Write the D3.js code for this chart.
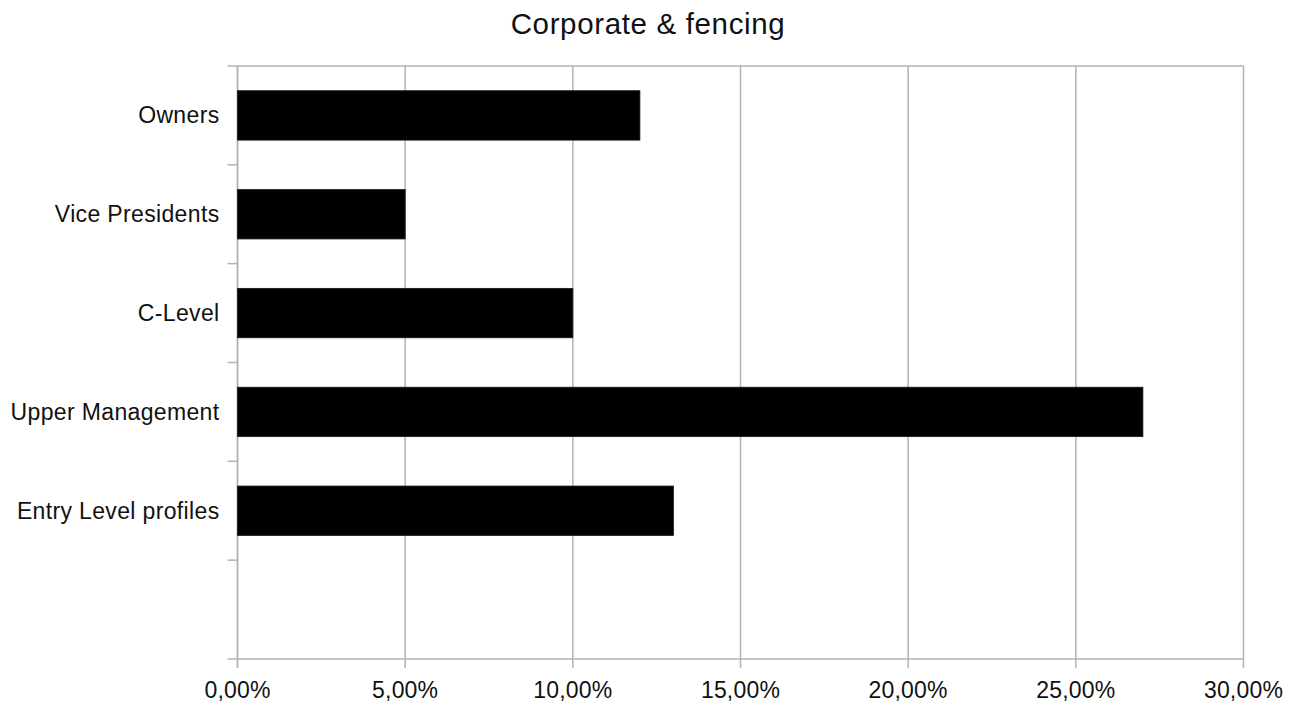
<!DOCTYPE html>
<html>
<head>
<meta charset="utf-8">
<script src="https://cdn.jsdelivr.net/npm/d3@7"></script>
<style>
  html, body { margin: 0; padding: 0; background: #fff; }
  svg { display: block; }
  text { font-family: "Liberation Sans", Arial, sans-serif; fill: #111; }
</style>
</head>
<body>
<svg id="chart" width="1295" height="704"></svg>
<script>
// Chart data
const title = "Corporate & fencing";
const categories = ["Owners", "Vice Presidents", "C-Level", "Upper Management", "Entry Level profiles"];
const shares = [0.12, 0.05, 0.10, 0.27, 0.13];
const xTicks = [0, 0.05, 0.10, 0.15, 0.20, 0.25, 0.30];

// Category slots: the axis reserves one more (empty) slot below the last category
const slots = categories.concat([""]);

const W = 1295, H = 704;
const plot = { left: 237.5, right: 1243.5, top: 66, bottom: 659 };
const gridColor = "#b3b3b3";

const svg = d3.select("#chart");

// Comma-decimal percentage formatting
const locale = d3.formatLocale({ decimal: ",", thousands: ".", grouping: [3], currency: ["", "€"] });
const fmtPct = locale.format(".2%");

const x = d3.scaleLinear().domain([0, 0.30]).range([plot.left, plot.right]);
const yBand = d3.scaleBand().domain(slots).range([plot.top, plot.bottom])
  .paddingInner(0.5).paddingOuter(0.25);
const step = yBand.step();

// Vertical gridlines at each x tick
svg.append("g").selectAll("line").data(xTicks).join("line")
  .attr("x1", d => x(d)).attr("x2", d => x(d))
  .attr("y1", plot.top).attr("y2", plot.bottom + 9)
  .attr("stroke", gridColor).attr("stroke-width", 1.5);

// Category boundary ticks on the y axis (top one runs across as the plot's upper edge)
const bounds = d3.range(slots.length + 1).map(i => plot.top + i * step);
svg.append("g").selectAll("line").data(bounds).join("line")
  .attr("x1", plot.left - 10)
  .attr("x2", (d, i) => (i === 0 || i === slots.length) ? plot.right : plot.left)
  .attr("y1", d => d).attr("y2", d => d)
  .attr("stroke", gridColor).attr("stroke-width", 1.5);

// Y axis line
svg.append("line")
  .attr("x1", plot.left).attr("x2", plot.left)
  .attr("y1", plot.top).attr("y2", plot.bottom + 9)
  .attr("stroke", gridColor).attr("stroke-width", 1.5);

// Bars
svg.append("g").selectAll("rect").data(categories).join("rect")
  .attr("x", x(0))
  .attr("y", d => yBand(d))
  .attr("width", (d, i) => x(shares[i]) - x(0))
  .attr("height", yBand.bandwidth())
  .attr("fill", "#000")
  .attr("stroke", "#1a1a1a").attr("stroke-width", 0.8);

// Category labels
svg.append("g").selectAll("text").data(categories).join("text")
  .attr("x", plot.left - 18)
  .attr("y", d => yBand(d) + yBand.bandwidth() / 2)
  .attr("dy", "0.35em")
  .attr("text-anchor", "end")
  .attr("font-size", 23)
  .attr("letter-spacing", 0.35)
  .text(d => d);

// X tick labels
svg.append("g").selectAll("text").data(xTicks).join("text")
  .attr("x", d => x(d))
  .attr("y", 698)
  .attr("text-anchor", "middle")
  .attr("font-size", 23)
  .attr("letter-spacing", 0.2)
  .text(d => fmtPct(d));

// Title
svg.append("text")
  .attr("x", 648).attr("y", 33.5)
  .attr("text-anchor", "middle")
  .attr("font-size", 29.5)
  .attr("letter-spacing", 0.65)
  .text(title);
</script>
</body>
</html>
